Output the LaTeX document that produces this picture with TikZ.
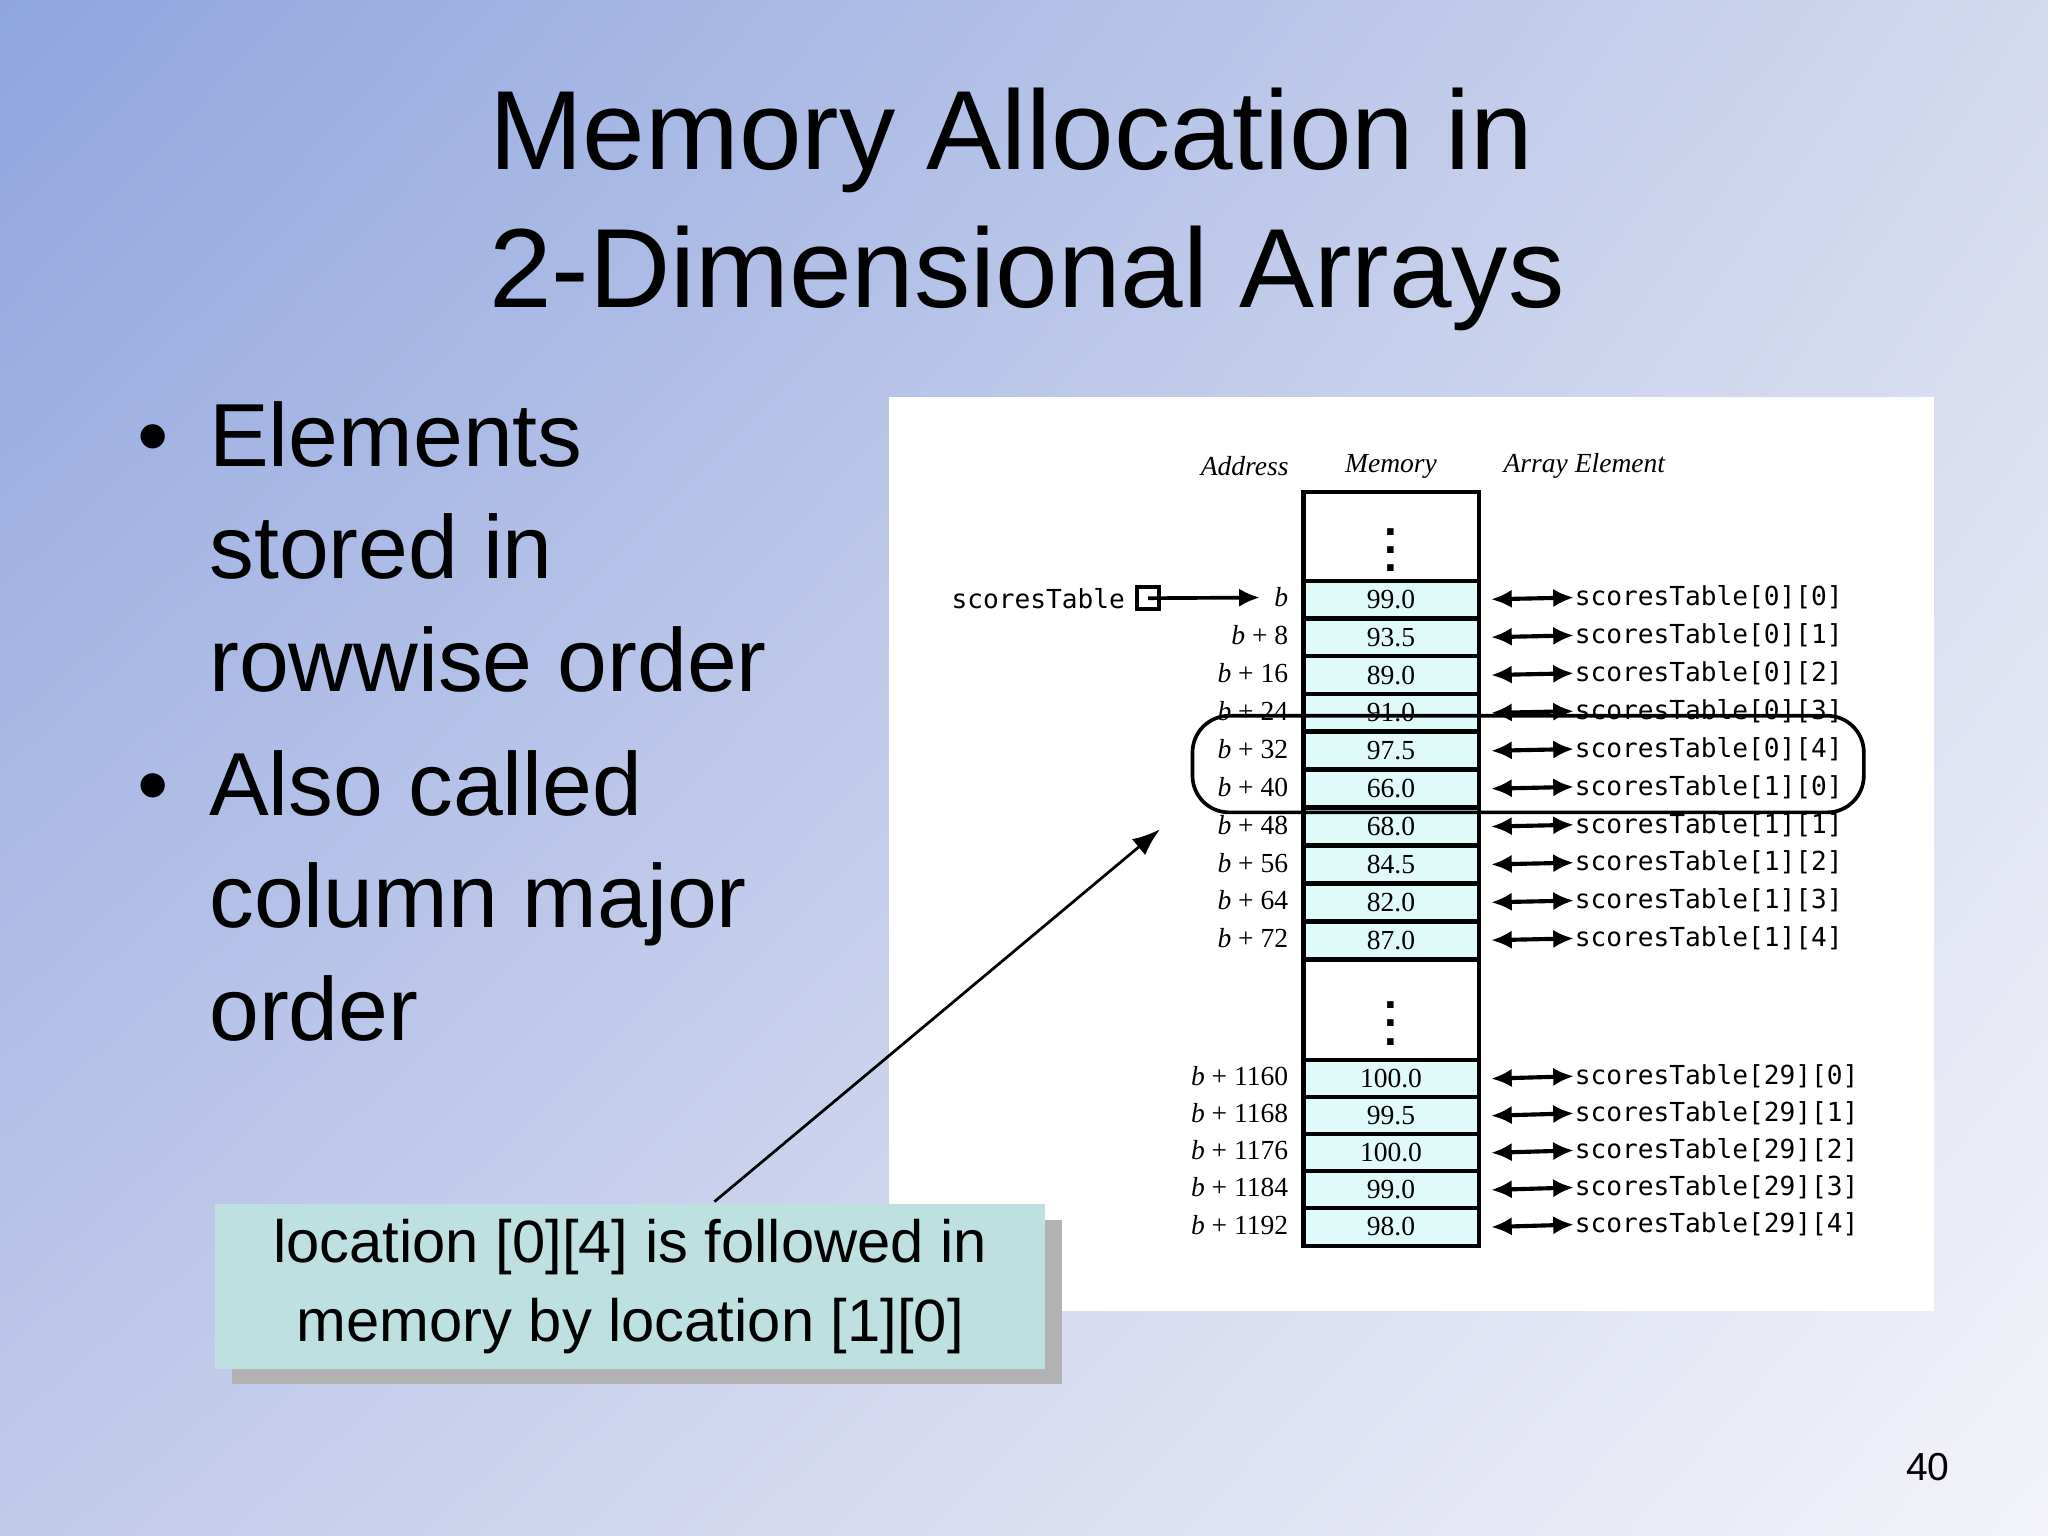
\documentclass[tikz,border=0pt]{standalone}
\usepackage{fontspec}
\setmainfont{Liberation Sans}
\newfontfamily\tablemono{DejaVu Sans Mono}
\newfontfamily\tableserif{Liberation Serif}
\usetikzlibrary{arrows.meta,positioning,shadows,shadings}
\definecolor{bgA}{HTML}{8FA5DF}
\definecolor{bgB}{HTML}{D3D9EE}
\definecolor{bgC}{HTML}{C2CAEA}
\definecolor{bgD}{HTML}{F3F3F9}
\definecolor{cellfill}{HTML}{E0FAFA}
\definecolor{notefill}{HTML}{BEE0E0}
\tikzset{
  cell/.style={draw,line width=0.9pt,fill=cellfill,minimum width=1.34cm,minimum height=0.285cm,inner sep=0pt,font=\tableserif\fontsize{6}{7}\selectfont},
  gap/.style={draw,line width=0.9pt,fill=white,minimum width=1.34cm,inner sep=0pt,font=\bfseries\fontsize{10}{10}\selectfont},
  addr/.style={anchor=east,inner sep=0pt,font=\tableserif\fontsize{6}{7}\selectfont},
  elem/.style={anchor=west,inner sep=0pt,font=\tablemono\fontsize{5.7}{7}\selectfont},
  head/.style={font=\tableserif\itshape\fontsize{6}{7}\selectfont},
  link/.style={{Latex[length=4.5pt,width=4pt]}-{Latex[length=4.5pt,width=4pt]},line width=0.9pt},
  bullet/.style={anchor=north west,align=left,font=\fontsize{19.5}{24.5}\selectfont}
}
\begin{document}
\begin{tikzpicture}[x=0.01cm,y=-0.01cm]
\useasboundingbox (0,0) rectangle (1568,1176);
\shade[upper left=bgA,upper right=bgB,lower left=bgC,lower right=bgD] (0,0) rectangle (1568,1176);

% title and bullets
\node[align=left,anchor=north west,font=\fontsize{24.5}{30}\selectfont] (title) at (362,55) {Memory Allocation in\\2-Dimensional Arrays};
\node[bullet] (bulletA) at (93,295)
  {\textbullet\hspace{0.45em}\parbox[t]{5cm}{\fontsize{19.5}{24.5}\selectfont Elements\\stored in\\rowwise order}};
\node[bullet] (bulletB) at (93,562)
  {\textbullet\hspace{0.45em}\parbox[t]{5cm}{\fontsize{19.5}{24.5}\selectfont Also called\\column major\\order}};
\node[font=\fontsize{8.5}{10}\selectfont] (page) at (1476,1123) {40};

% panel
\fill[white] (681,304) rectangle (1481,1004);
\node[head] (hAddr) at (953,357) {Address};
\node[head] (hMem) at (1065,357) {Memory};
\node[head] (hElem) at (1213,357) {Array Element};

\node[gap,minimum height=0.68cm,anchor=north] (topgap) at (1065,375) {$\vdots$};
\foreach \v/\a/\e [count=\i] in {99.0/{}/{0][0},93.5/ + 8/{0][1},89.0/ + 16/{0][2},91.0/ + 24/{0][3},97.5/ + 32/{0][4},66.0/ + 40/{1][0},68.0/ + 48/{1][1},84.5/ + 56/{1][2},82.0/ + 64/{1][3},87.0/ + 72/{1][4}}{
  \node[cell,anchor=north] (m\i) at (1065,{443+29*(\i-1)}) {\v};
  \node[addr] (a\i) at (987,{457.5+29*(\i-1)}) {\textit{b}\a};
  \node[elem] (e\i) at (1205,{457.5+29*(\i-1)}) {scoresTable[\e]};
  \draw[link] (m\i.east) ++(8,0) coordinate (l\i) -- (e\i.west);
}
\node[gap,minimum height=0.77cm,anchor=north] (midgap) at (1065,733) {$\vdots$};
\foreach \v/\a/\e [count=\i] in {100.0/ + 1160/{29][0},99.5/ + 1168/{29][1},100.0/ + 1176/{29][2},99.0/ + 1184/{29][3},98.0/ + 1192/{29][4}}{
  \node[cell,anchor=north] (n\i) at (1065,{810+28.4*(\i-1)}) {\v};
  \node[addr] (c\i) at (987,{824+28.4*(\i-1)}) {\textit{b}\a};
  \node[elem] (f\i) at (1205,{824+28.4*(\i-1)}) {scoresTable[\e]};
  \draw[link] (n\i.east) ++(8,0) coordinate (k\i) -- (f\i.west);
}
\node[elem,anchor=east] (ptrname) at (862,458) {scoresTable};
\node[draw,line width=0.8pt,minimum size=0.17cm,inner sep=0pt,right=2pt of ptrname] (ptr) {};
\draw[-{Latex[length=4.5pt,width=4pt]},line width=0.8pt] (ptr.center) -- ([xshift=-3pt]a1.west);

% highlight and note
\draw[line width=0.8pt,rounded corners=8pt] (913,548) rectangle (1427,622);
\node[draw=none,fill=notefill,minimum width=6.35cm,minimum height=1.2cm,align=center,
  drop shadow={shadow xshift=0.13cm,shadow yshift=-0.12cm,opacity=1,fill=gray!60},
  font=\fontsize{13}{17}\selectfont] (note) at (482.5,985) {location [0][4] is followed in\\memory by location [1][0]};
\draw[-{Latex[length=6pt]},line width=0.6pt] (547,920) -- (888,635);
\end{tikzpicture}
\end{document}
